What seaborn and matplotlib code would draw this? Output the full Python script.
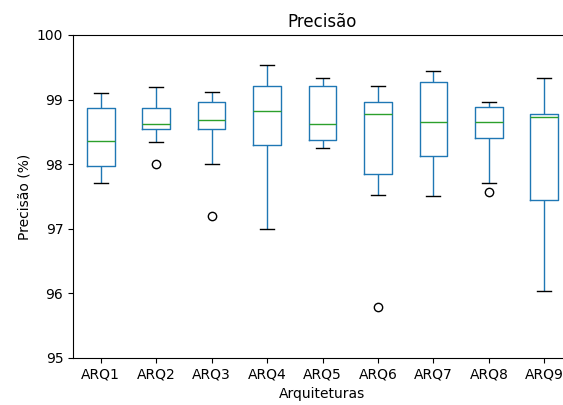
import matplotlib
matplotlib.use("Agg")
import matplotlib.pyplot as plt
import seaborn as sns
import pandas as pd

# Values (five-number summary per architecture + outliers)
arquiteturas = ["ARQ1", "ARQ2", "ARQ3", "ARQ4", "ARQ5", "ARQ6", "ARQ7", "ARQ8", "ARQ9"]
whisker_low = [97.71, 98.34, 98.01, 97.00, 98.25, 97.53, 97.50, 97.71, 96.04]
q1 = [97.97, 98.54, 98.54, 98.29, 98.38, 97.85, 98.13, 98.40, 97.44]
mediana = [98.36, 98.62, 98.68, 98.82, 98.62, 98.78, 98.66, 98.66, 98.73]
q3 = [98.87, 98.87, 98.96, 99.21, 99.21, 98.96, 99.28, 98.89, 98.77]
whisker_high = [99.10, 99.19, 99.12, 99.54, 99.33, 99.21, 99.44, 98.96, 99.33]
outliers = [[], [98.01], [97.20], [], [], [95.79], [], [97.57], []]

# Build samples whose (linear) quartiles reproduce the summary above (9 values each)
rows = []
for i, arq in enumerate(arquiteturas):
    if outliers[i]:
        vals = [outliers[i][0], whisker_low[i], q1[i], mediana[i], mediana[i],
                mediana[i], q3[i], q3[i], whisker_high[i]]
    else:
        vals = [whisker_low[i], q1[i], q1[i], mediana[i], mediana[i],
                mediana[i], q3[i], q3[i], whisker_high[i]]
    for v in vals:
        rows.append({"Arquiteturas": arq, "Precisão": v})
df = pd.DataFrame(rows)

fig = plt.figure(figsize=(5.63, 4.05), dpi=100)
ax = fig.add_axes([73 / 563, (405 - 358) / 405, (572 - 73) / 563, (358 - 35) / 405])

sns.boxplot(
    data=df, x="Arquiteturas", y="Precisão", order=arquiteturas, ax=ax,
    fill=False, color="#1f77b4", linewidth=1, width=0.5, whis=1.5,
    boxprops=dict(color="#1f77b4"),
    whiskerprops=dict(color="#1f77b4"),
    capprops=dict(color="black"),
    medianprops=dict(color="#2ca02c"),
    flierprops=dict(marker="o", markeredgecolor="black", markerfacecolor="none",
                    markersize=6, markeredgewidth=1),
)

ax.set_xlim(-0.5, 8.5)
ax.set_ylim(95, 100)
ax.set_yticks([95, 96, 97, 98, 99, 100])
ax.spines["right"].set_visible(False)
ax.set_title("Precisão", fontsize=12)
ax.set_xlabel("Arquiteturas", fontsize=10)
ax.set_ylabel("Precisão (%)", fontsize=10)
ax.tick_params(labelsize=10)

fig.savefig("out.png", dpi=100)
